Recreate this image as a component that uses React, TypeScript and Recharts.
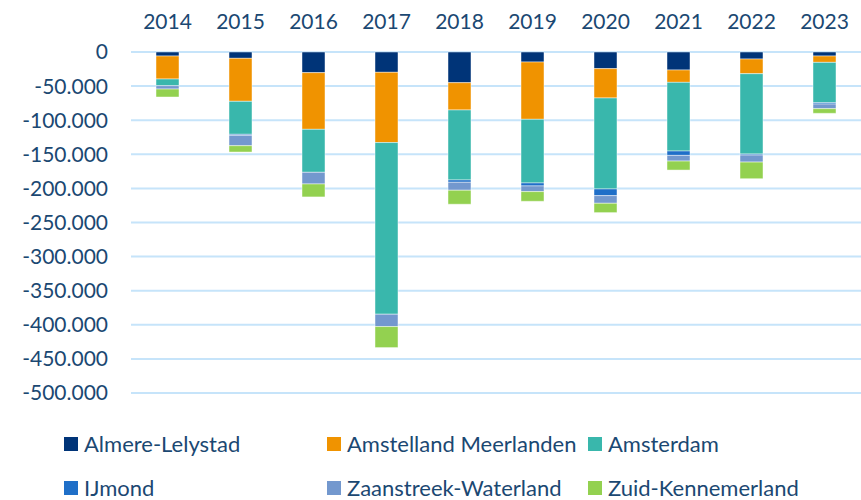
import { BarChart, Bar, XAxis, YAxis, CartesianGrid } from 'recharts';

const YEARS = ['2014', '2015', '2016', '2017', '2018', '2019', '2020', '2021', '2022', '2023'];

// values per region, in people (negative = outflow)
const ALMERE = [-5900, -9300, -30300, -29800, -45000, -14700, -24400, -26400, -10300, -5900];
const AMSTELLAND = [-33700, -63000, -83100, -103000, -40000, -84000, -43000, -18100, -21500, -9300];
const AMSTERDAM = [-9800, -48400, -63000, -251700, -102600, -93300, -133400, -100700, -117800, -59100];
const IJMOND = [0, -1500, 0, 0, -3400, -4400, -9800, -6400, -1500, -2000];
const ZAANSTREEK = [-4900, -15200, -17100, -18100, -11700, -8300, -11200, -8300, -10300, -6800];
const ZUID_KENNEMERLAND = [-11700, -9300, -19000, -30800, -20500, -14200, -13700, -13200, -24400, -6800];

const Y_TICKS = [0, -50000, -100000, -150000, -200000, -250000, -300000, -350000, -400000, -450000, -500000];

const SERIES = [
  { key: 'almere', name: 'Almere-Lelystad', color: '#003478' },
  { key: 'amstelland', name: 'Amstelland Meerlanden', color: '#F09300' },
  { key: 'amsterdam', name: 'Amsterdam', color: '#39B7AC' },
  { key: 'ijmond', name: 'IJmond', color: '#1F6FC8' },
  { key: 'zaanstreek', name: 'Zaanstreek-Waterland', color: '#7398CE' },
  { key: 'zuid', name: 'Zuid-Kennemerland', color: '#93D150' },
];

const data = YEARS.map((year, i) => ({
  year,
  almere: ALMERE[i],
  amstelland: AMSTELLAND[i],
  amsterdam: AMSTERDAM[i],
  ijmond: IJMOND[i],
  zaanstreek: ZAANSTREEK[i],
  zuid: ZUID_KENNEMERLAND[i],
}));

const TEXT = '#1B4872';
const FONT = 'Lato, "Open Sans", sans-serif';

// Dutch style thousands separator
const fmt = (v: number) => {
  if (v === 0) return '0';
  const s = Math.abs(v).toString().replace(/\B(?=(\d{3})+(?!\d))/g, '.');
  return (v < 0 ? '-' : '') + s;
};

const COL_X = [64, 327, 588];
const ROW_Y = [444, 488];

function ChartLegend() {
  return (
    <>
      {SERIES.map((s, i) => {
        const x = COL_X[i % 3];
        const y = ROW_Y[Math.floor(i / 3)];
        return (
          <div key={s.key} style={{ position: 'absolute', left: x, top: y - 12, height: 24, display: 'flex', alignItems: 'center' }}>
            <span style={{ width: 14, height: 14, background: s.color, display: 'inline-block', marginRight: 6 }} />
            <span style={{ fontFamily: FONT, fontSize: 22, lineHeight: '24px', color: TEXT, whiteSpace: 'nowrap' }}>{s.name}</span>
          </div>
        );
      })}
    </>
  );
}

export default function App() {
  return (
    <div style={{ position: 'absolute', left: 0, top: 0, width: 861, height: 500, background: '#fff', overflow: 'hidden' }}>
      <BarChart
        width={861}
        height={420}
        data={data}
        margin={{ top: 22, right: 0, bottom: 27, left: 0 }}
      >
        <CartesianGrid horizontal vertical={false} stroke="#C6E4FA" strokeWidth={2} />
        <XAxis
          dataKey="year"
          orientation="top"
          axisLine={false}
          tickLine={false}
          tickSize={0}
          tickMargin={23}
          height={30}
          tick={{ fill: TEXT, fontSize: 21, fontFamily: FONT }}
        />
        <YAxis
          type="number"
          domain={[-500000, 0]}
          ticks={Y_TICKS}
          interval={0}
          axisLine={false}
          tickLine={false}
          tickSize={0}
          tickMargin={23}
          width={131}
          tickFormatter={fmt}
          tick={{ fill: TEXT, fontSize: 21, fontFamily: FONT }}
        />
        {SERIES.map((s) => (
          <Bar
            key={s.key}
            dataKey={s.key}
            name={s.name}
            stackId="a"
            fill={s.color}
            stroke="#ffffff"
            strokeOpacity={0.45}
            strokeWidth={1}
            barSize={23}
            isAnimationActive={false}
          />
        ))}
      </BarChart>
      <ChartLegend />
    </div>
  );
}
